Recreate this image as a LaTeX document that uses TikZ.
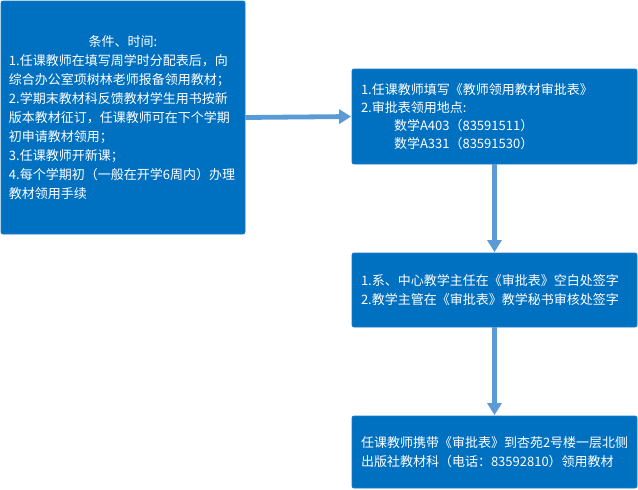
\documentclass[tikz,border=0pt]{standalone}
\usepackage{fontspec}
\setmainfont{Noto Sans CJK SC}
\usetikzlibrary{arrows.meta}
\definecolor{boxblue}{HTML}{0070C0}
\definecolor{boxedge}{HTML}{1A7CC8}
\definecolor{arrowblue}{HTML}{5B9BD5}
\tikzset{
  stepbox/.style={draw=boxedge, line width=0.8pt, fill=boxblue, rounded corners=2pt,
    text=white, inner sep=0pt, align=left, font=\fontsize{13pt}{19pt}\selectfont},
  flowarrow/.style={draw=arrowblue, line width=4.8pt,
    -{Triangle[width=14pt,length=12pt]}, shorten >=0.5pt}
}
\begin{document}
\begin{tikzpicture}[x=1pt,y=-1pt]
\useasboundingbox (0,0) rectangle (638,490);
\node[stepbox, minimum width=244pt, minimum height=233pt, text width=228pt]
  (cond) at (123,117.5) {\makebox[228pt][c]{条件、时间:}\\
1.任课教师在填写周学时分配表后，向\\
综合办公室项树林老师报备领用教材；\\
2.学期末教材科反馈教材学生用书按新\\
版本教材征订，任课教师可在下个学期\\
初申请教材领用；\\
3.任课教师开新课；\\
4.每个学期初（一般在开学6周内）办理\\
教材领用手续};
\node[stepbox, minimum width=285pt, minimum height=95pt, text width=267pt,
  font=\fontsize{13pt}{18pt}\selectfont]
  (fill) at (494.5,116.5) {1.任课教师填写《教师领用教材审批表》\\
2.审批表领用地点:\\
\hspace*{33pt}数学A403（83591511）\\
\hspace*{33pt}数学A331（83591530）};
\node[stepbox, minimum width=285pt, minimum height=74pt, text width=267pt]
  (sign) at (494.5,290) {1.系、中心教学主任在《审批表》空白处签字\\
2.教学主管在《审批表》教学秘书审核处签字};
\node[stepbox, minimum width=285pt, minimum height=72pt, text width=267pt]
  (take) at (494.5,452) {任课教师携带《审批表》到杏苑2号楼一层北侧\\
出版社教材科（电话：83592810）领用教材};
\draw[flowarrow] (cond.east) -- (fill.west);
\draw[flowarrow] (fill.south) -- (sign.north);
\draw[flowarrow] (sign.south) -- (take.north);
\end{tikzpicture}
\end{document}
